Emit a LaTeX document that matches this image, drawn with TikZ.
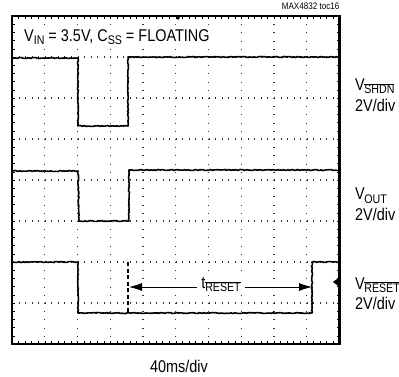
\documentclass[tikz,border=0pt]{standalone}
\usepackage{fontspec}
\setmainfont[FakeStretch=0.85]{Liberation Sans}
\usetikzlibrary{arrows.meta,decorations.pathmorphing}
\newcommand\ovl[1]{$\overline{\hbox{#1}}$}
\newcommand\lowtxt[1]{\raisebox{-3pt}{\fontsize{12.5}{13}\selectfont #1}}
\begin{document}
\begin{tikzpicture}[x=1pt,y=-1pt,
    trace/.style={line width=1.6pt,line join=round,decorate,
      decoration={random steps,segment length=1.5pt,amplitude=0.5pt}},
    griddot/.style={line width=1.1pt,black!80},
    lbl/.style={inner sep=0pt,anchor=base west,font=\fontsize{17}{20}\selectfont}]
    \useasboundingbox (0,0) rectangle (399,377);
    \pgfmathsetseed{4832}
    \foreach \i in {1,...,9}
      \draw[griddot,dash pattern=on 1pt off 7.2pt] ({12+\i*32.75},16) -- ({12+\i*32.75},344);
    \foreach \j in {1,...,7}
      \draw[griddot,dash pattern=on 1pt off 5.55pt] (12,{16+\j*41}) -- (339.5,{16+\j*41});
    \node[lbl,fill=white,inner xsep=4pt,inner ysep=3pt] (cond) at (20,42) {V\lowtxt{IN} = 3.5V, C\lowtxt{SS} = FLOATING};
    \foreach \k in {1,...,39}{
      \draw[thin] (12,{16+\k*8.2}) -- (15,{16+\k*8.2});
      \draw[thin] (339.5,{16+\k*8.2}) -- (336.5,{16+\k*8.2});
    };
    \foreach \k in {1,...,49}{
      \draw[thin] ({12+\k*6.55},16) -- ({12+\k*6.55},19);
      \draw[thin] ({12+\k*6.55},344) -- ({12+\k*6.55},341);
    };
    \draw[trace] (13,58) -- (78,58) -- (78,126) -- (128,126) -- (128,57) -- (339,57);
    \draw[trace] (13,171) -- (78,171) -- (79,221) -- (129,221) -- (129,170) -- (339,170);
    \draw[trace] (13,262) -- (78,262) -- (78,313) -- (312,313) -- (312,262) -- (339,262);
    \draw[line width=1.3pt,dash pattern=on 4pt off 2.5pt] (128,262) -- (128,313);
    \fill (339.5,277) -- (333,282) -- (339.5,287) -- cycle;
    \fill (175,16) -- (178,20) -- (181,16) -- cycle;
    \draw[line width=2.5pt] (12,16) rectangle (339.5,344);
    \node[inner sep=0pt,anchor=base east,font=\fontsize{9.5}{10}\selectfont] (toc) at (339.5,10) {MAX4832 toc16};
    \node[lbl] (shdn) at (355,91) {V\kern-0.5pt\lowtxt{\ovl{SHDN}}};
    \node[lbl] (shdndiv) at (355,112) {2V/div};
    \node[lbl] (vout) at (355,200) {V\kern-0.5pt\lowtxt{OUT}};
    \node[lbl] (voutdiv) at (355,220) {2V/div};
    \node[lbl] (rst) at (355,289) {V\kern-0.5pt\lowtxt{\ovl{RESET}}};
    \node[lbl] (rstdiv) at (355,309) {2V/div};
    \node[lbl,anchor=base] (time) at (179,372) {40ms/div};
    \node[lbl,anchor=center,fill=white,inner xsep=4pt] (trst) at (221,285) {t\lowtxt{\ovl{RESET}}};
    \coordinate (tl) at (129,287);
    \coordinate (tr) at (312,287);
    \draw[thick,-{Latex[length=13pt,width=8pt]}] (trst.west |- tl) -- (tl);
    \draw[thick,-{Latex[length=13pt,width=8pt]}] (trst.east |- tr) -- (tr);
  \end{tikzpicture}
\end{document}
